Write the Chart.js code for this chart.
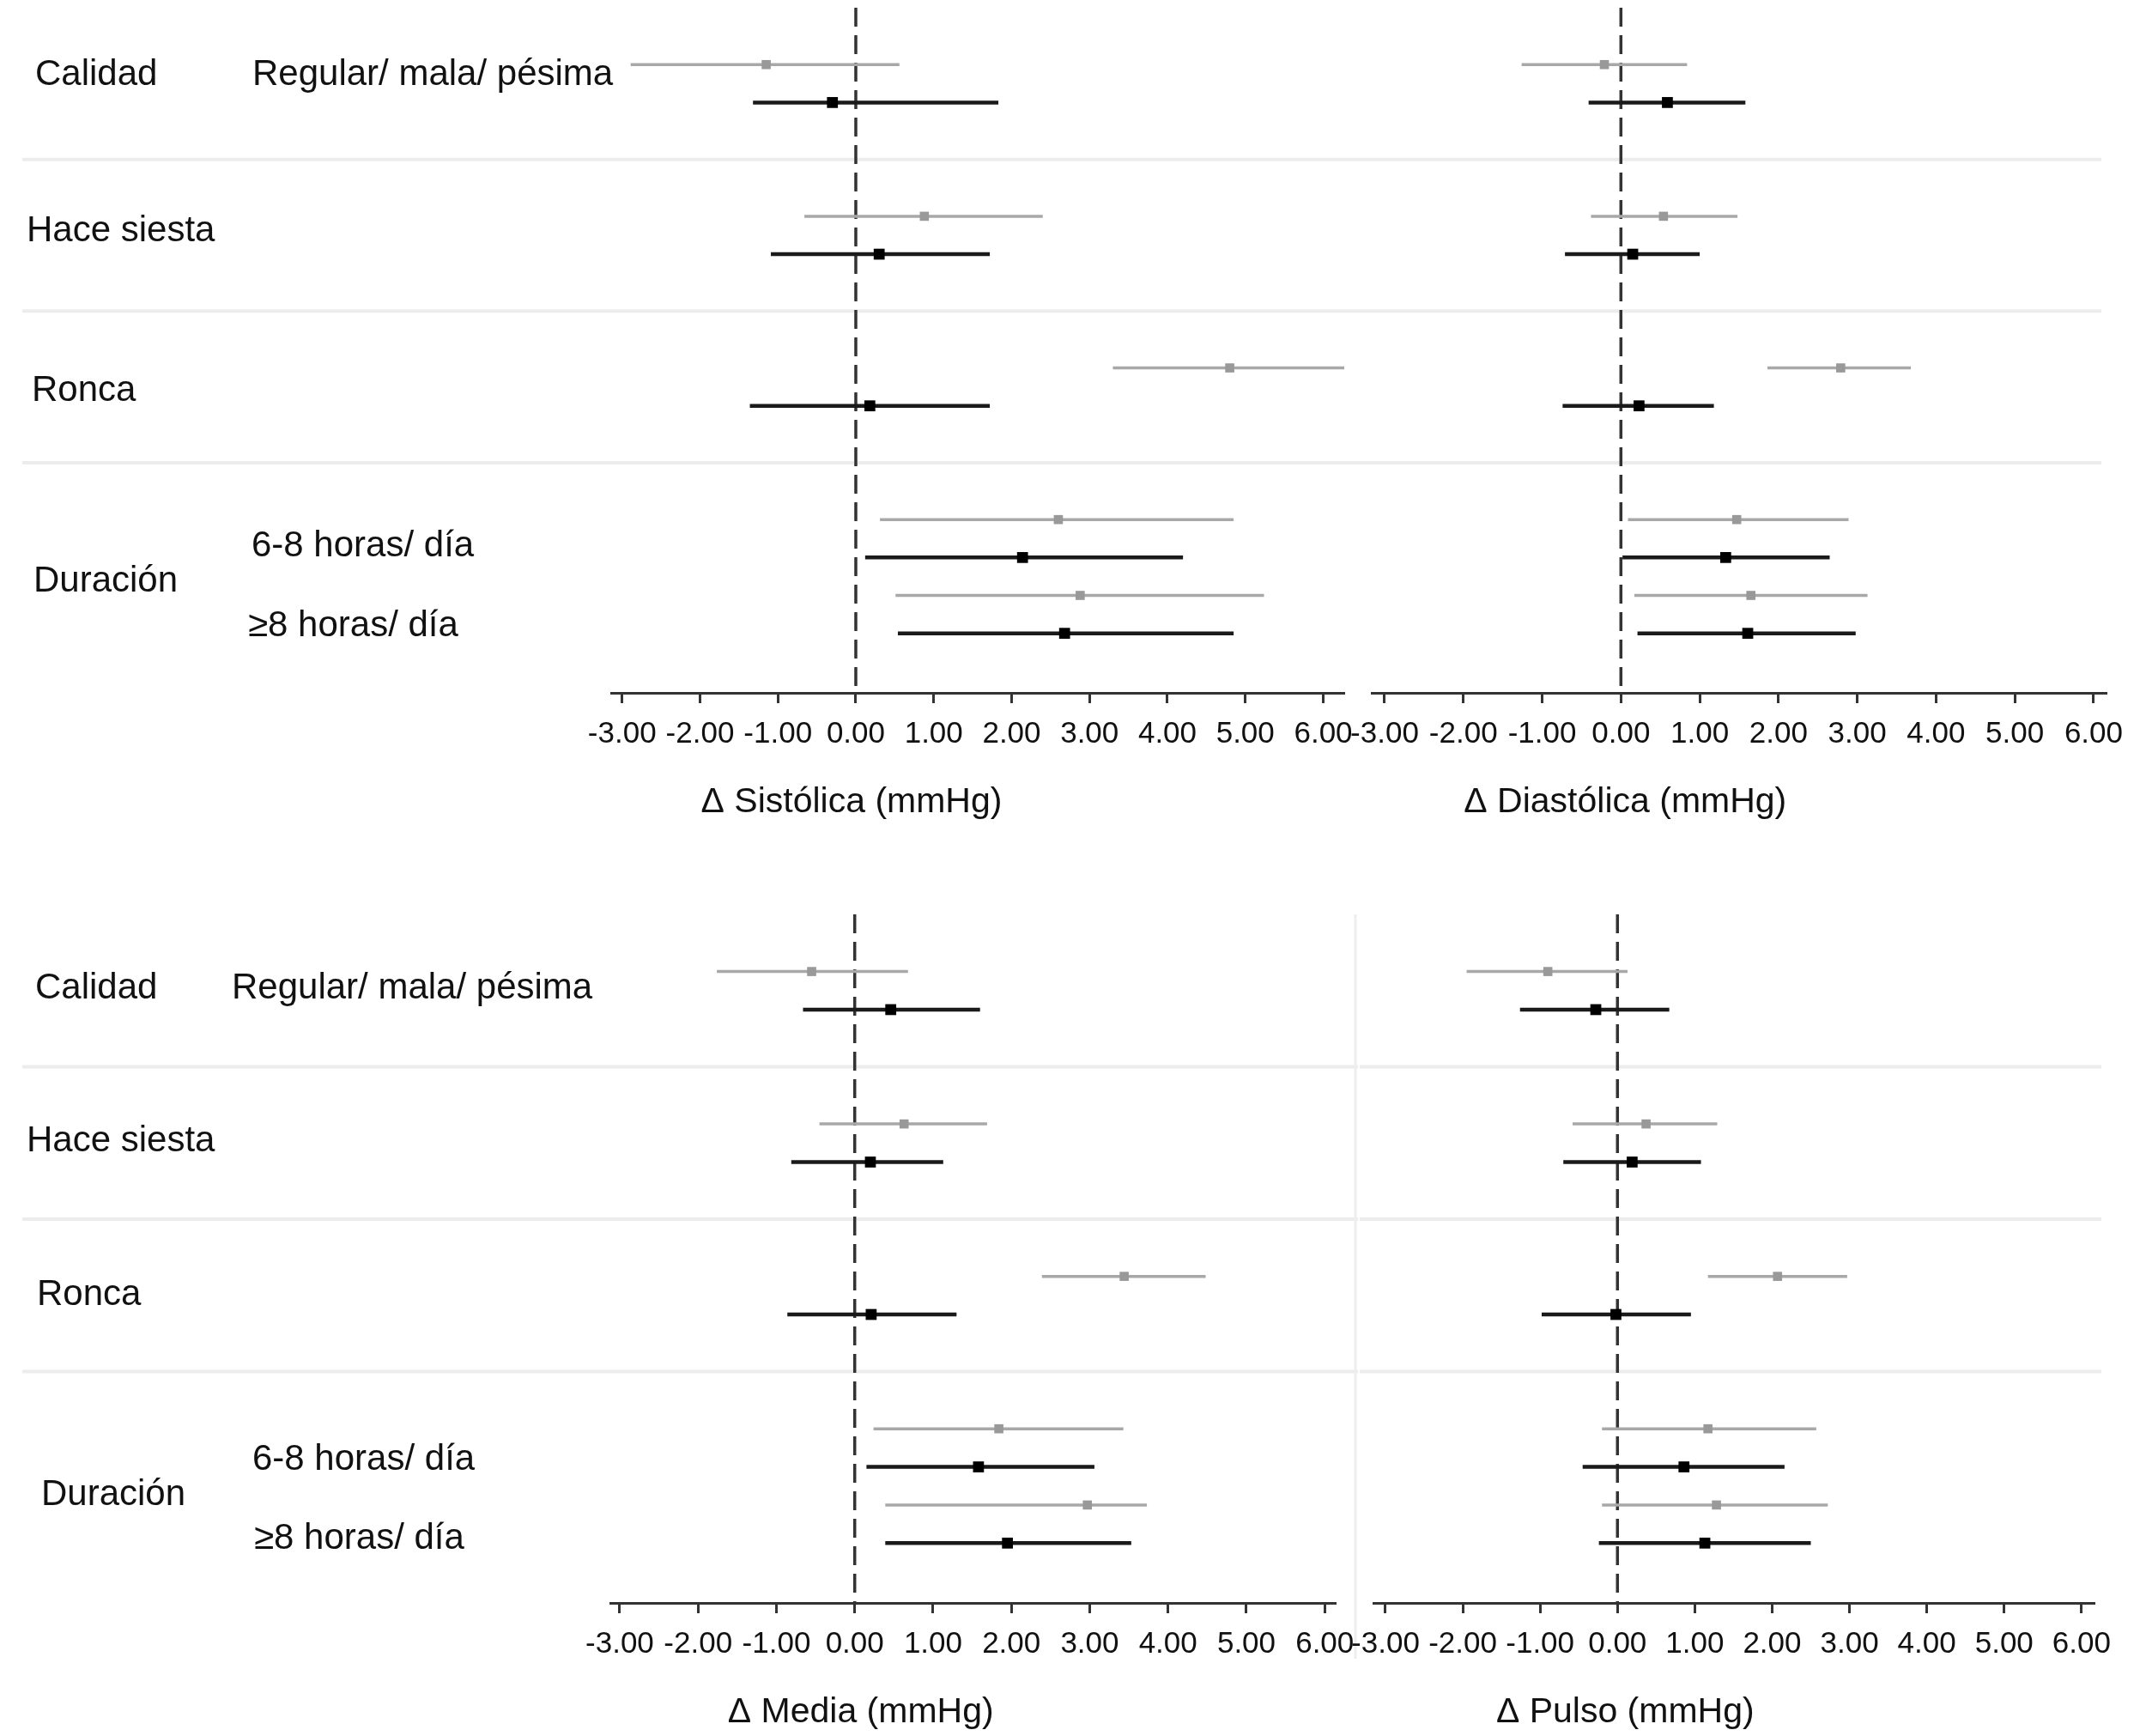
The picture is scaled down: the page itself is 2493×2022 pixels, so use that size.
<!DOCTYPE html>
<html>
<head>
<meta charset="utf-8">
<script src="https://cdn.jsdelivr.net/npm/chart.js@4.4.1/dist/chart.umd.min.js"></script>
<style>
    body { margin: 0; background: #fff; width: 2493px; height: 2022px; position: relative; overflow: hidden; }
    canvas { position: absolute; }
</style>
</head>
<body>
<canvas id="c-sis" width="1660" height="1000" style="left:0;top:0"></canvas>
<canvas id="c-dia" width="993" height="1000" style="left:1500px;top:0"></canvas>
<canvas id="c-med" width="1660" height="1022" style="left:0;top:1000px"></canvas>
<canvas id="c-pul" width="993" height="1022" style="left:1500px;top:1000px"></canvas>
<script>
// --- Data ---
const groups = ['Calidad', 'Hace siesta', 'Ronca', 'Duración'];
const subLabels = [['Regular/ mala/ pésima'], [''], [''], ['6-8 horas/ día', '≥8 horas/ día']];
const tickValues = [-3, -2, -1, 0, 1, 2, 3, 4, 5, 6];

// each row is [lower, estimate, upper]
// rows: Calidad, Hace siesta, Ronca, 6-8 horas, >=8 horas
const sistolicaGris  = [[-2.89, -1.15, 0.56], [-0.66, 0.88, 2.40], [3.30, 4.80, 6.40], [0.31, 2.60, 4.85], [0.51, 2.88, 5.24]];
const sistolicaNegro = [[-1.32, -0.30, 1.83], [-1.09, 0.30, 1.72], [-1.36, 0.18, 1.72], [0.12, 2.14, 4.20], [0.54, 2.68, 4.85]];

const diastolicaGris  = [[-1.26, -0.21, 0.84], [-0.38, 0.54, 1.48], [1.86, 2.79, 3.68], [0.09, 1.47, 2.89], [0.17, 1.65, 3.13]];
const diastolicaNegro = [[-0.41, 0.59, 1.58], [-0.71, 0.15, 1.00], [-0.74, 0.23, 1.18], [0.02, 1.33, 2.65], [0.21, 1.61, 2.98]];

const mediaGris  = [[-1.76, -0.55, 0.68], [-0.45, 0.63, 1.69], [2.39, 3.44, 4.48], [0.24, 1.84, 3.43], [0.39, 2.97, 3.73]];
const mediaNegro = [[-0.66, 0.46, 1.60], [-0.81, 0.20, 1.13], [-0.86, 0.21, 1.30], [0.15, 1.58, 3.06], [0.39, 1.95, 3.53]];

const pulsoGris  = [[-1.95, -0.90, 0.13], [-0.58, 0.37, 1.29], [1.17, 2.07, 2.97], [-0.20, 1.17, 2.57], [-0.20, 1.28, 2.72]];
const pulsoNegro = [[-1.26, -0.28, 0.67], [-0.70, 0.19, 1.08], [-0.98, -0.02, 0.95], [-0.45, 0.86, 2.16], [-0.24, 1.13, 2.50]];

// --- Row layout: two rows (gris, negro) per sub label, two blank rows between groups ---
const rowPos = [];
const groupMid = [];
const groupStart = [];
let p = 0;
subLabels.forEach(subs => {
    const start = p;
    groupStart.push(start);
    subs.forEach(() => { rowPos.push(p); p += 2; });
    groupMid.push((start + p - 1) / 2);
    p += 2;
});
const Y_MIN = -1.5;
const Y_MAX = 16.57;

const FONT = "'Liberation Sans', Arial, Helvetica, sans-serif";
const GRAY_LINE = '#a8a8a8', GRAY_PT = '#999999';
const BLACK_LINE = '#1a1a1a', BLACK_PT = '#000';

function buildDatasets(gris, negro) {
    const ds = [];
    ds.push({
        data: [{ x: 0, y: Y_MIN }, { x: 0, y: Y_MAX }],
        showLine: true, borderColor: '#333', borderWidth: 3.5, borderDash: [22, 10],
        pointRadius: 0, order: 3
    });
    rowPos.forEach((pos, i) => {
        [[gris[i], pos, GRAY_LINE, 3.5], [negro[i], pos + 1, BLACK_LINE, 4.5]].forEach(([v, y, col, w]) => {
            ds.push({
                data: [{ x: v[0], y: y }, { x: v[2], y: y }],
                showLine: true, borderColor: col, borderWidth: w, pointRadius: 0, order: 2
            });
        });
    });
    ds.push({
        data: rowPos.map((pos, i) => ({ x: gris[i][1], y: pos })),
        pointStyle: 'rect', pointRadius: 7.5, backgroundColor: GRAY_PT, borderWidth: 0, order: 1
    });
    ds.push({
        data: rowPos.map((pos, i) => ({ x: negro[i][1], y: pos + 1 })),
        pointStyle: 'rect', pointRadius: 9, backgroundColor: BLACK_PT, borderWidth: 0, order: 0
    });
    return ds;
}

// separators, row labels, axis title
const decorPlugin = {
    id: 'decor',
    beforeDatasetsDraw(chart) {
        const cfg = chart.options.plugins.decor;
        const { ctx, chartArea } = chart;
        const ys = chart.scales.y;
        ctx.save();
        ctx.strokeStyle = '#ececec';
        ctx.lineWidth = 4;
        groupStart.slice(1).forEach(s => {
            const y = ys.getPixelForValue(s - 1.5);
            ctx.beginPath();
            ctx.moveTo(chartArea.left + cfg.sepFrom, y);
            ctx.lineTo(chartArea.left + cfg.sepTo, y);
            ctx.stroke();
        });
        if (cfg.vline) {
            ctx.strokeStyle = '#eeeeee';
            ctx.lineWidth = 3;
            ctx.beginPath();
            ctx.moveTo(chartArea.right + 23, chartArea.top);
            ctx.lineTo(chartArea.right + 23, chartArea.bottom + 65);
            ctx.stroke();
        }
        ctx.restore();
    },
    afterDraw(chart) {
        const cfg = chart.options.plugins.decor;
        const { ctx, chartArea } = chart;
        const ys = chart.scales.y, xs = chart.scales.x;
        ctx.save();
        ctx.fillStyle = '#111';
        ctx.textBaseline = 'middle';
        if (cfg.groupX) {
            ctx.textAlign = 'left';
            ctx.font = '42px ' + FONT;
            groups.forEach((g, i) => {
                ctx.fillText(g, cfg.groupX[i], ys.getPixelForValue(groupMid[i]) + cfg.groupDy[i]);
            });
            let k = 0;
            subLabels.forEach(subs => {
                subs.forEach(s => {
                    if (s) ctx.fillText(s, cfg.subX[k], ys.getPixelForValue(rowPos[k] + 0.5) + cfg.subDy[k]);
                    k++;
                });
            });
        }
        ctx.textAlign = 'center';
        ctx.font = '41px ' + FONT;
        ctx.fillText(cfg.title, xs.getPixelForValue(0) + cfg.titleDx, chartArea.bottom + 128);
        ctx.restore();
    }
};

function makePanel(p) {
    new Chart(document.getElementById(p.id), {
        type: 'scatter',
        data: { datasets: buildDatasets(p.gris, p.negro) },
        plugins: [decorPlugin],
        options: {
            responsive: false,
            devicePixelRatio: 1,
            animation: false,
            layout: { padding: { left: p.pad.left, right: p.pad.right, top: p.pad.top, bottom: 0 } },
            plugins: {
                legend: { display: false },
                tooltip: { enabled: false },
                decor: p.decor
            },
            scales: {
                x: {
                    type: 'linear', min: p.xMin, max: p.xMax,
                    afterBuildTicks: s => { s.ticks = tickValues.map(v => ({ value: v })); },
                    afterFit: s => { s.height = p.axisH; },
                    ticks: {
                        autoSkip: false, maxRotation: 0, minRotation: 0, padding: 15,
                        color: '#111', font: { family: FONT, size: 35 },
                        callback: v => Number(v).toFixed(2)
                    },
                    grid: { drawOnChartArea: false, drawTicks: true, tickLength: 12, tickWidth: 3, tickColor: '#333' },
                    border: { display: true, color: '#333', width: 3 }
                },
                y: { type: 'linear', reverse: true, min: Y_MIN, max: Y_MAX, display: false }
            }
        }
    });
}

makePanel({
    id: 'c-sis', gris: sistolicaGris, negro: sistolicaNegro, xMin: -3.14, xMax: 6.27,
    pad: { left: 712, right: 94, top: 0 }, axisH: 193,
    decor: { title: 'Δ Sistólica (mmHg)', titleDx: -5, sepFrom: -686, sepTo: 870,
             groupX: [41, 31, 37, 39], groupDy: [-10, -5, 5, 6],
             subX: [294, 0, 0, 293, 289], subDy: [-10, 0, 0, 9, 14] }
});
makePanel({
    id: 'c-dia', gris: diastolicaGris, negro: diastolicaNegro, xMin: -3.163, xMax: 6.164,
    pad: { left: 98, right: 39, top: 0 }, axisH: 193,
    decor: { title: 'Δ Diastólica (mmHg)', titleDx: 5, sepFrom: -16, sepTo: 850 }
});
makePanel({
    id: 'c-med', gris: mediaGris, negro: mediaNegro, xMin: -3.12, xMax: 6.14,
    pad: { left: 711, right: 104, top: 65 }, axisH: 155,
    decor: { title: 'Δ Media (mmHg)', titleDx: 7, sepFrom: -685, sepTo: 871, vline: true,
             groupX: [41, 31, 43, 48], groupDy: [-2, -2, 0, 11],
             subX: [270, 0, 0, 294, 296], subDy: [-2, 0, 0, 14, 17] }
});
makePanel({
    id: 'c-pul', gris: pulsoGris, negro: pulsoNegro, xMin: -3.155, xMax: 6.168,
    pad: { left: 100, right: 53, top: 65 }, axisH: 155,
    decor: { title: 'Δ Pulso (mmHg)', titleDx: 9, sepFrom: -16, sepTo: 848 }
});
</script>
</body>
</html>
